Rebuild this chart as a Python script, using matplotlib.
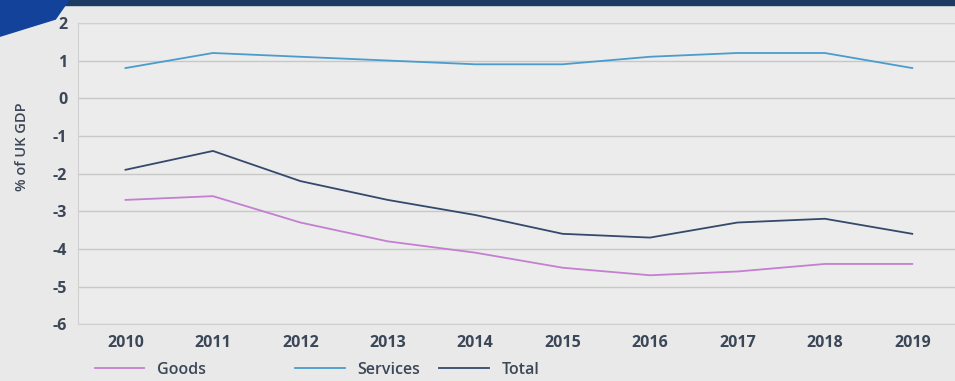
import matplotlib
matplotlib.use("Agg")
import matplotlib.pyplot as plt
from matplotlib.patches import Polygon, Rectangle

years = ["2010", "2011", "2012", "2013", "2014", "2015", "2016", "2017", "2018", "2019"]
goods = [-2.7, -2.6, -3.3, -3.8, -4.1, -4.5, -4.7, -4.6, -4.4, -4.4]
services = [0.8, 1.2, 1.1, 1.0, 0.9, 0.9, 1.1, 1.2, 1.2, 0.8]
total = [-1.9, -1.4, -2.2, -2.7, -3.1, -3.6, -3.7, -3.3, -3.2, -3.6]

plt.rcParams['font.family'] = ['Open Sans', 'DejaVu Sans']
text_col = "#3b4657"

fig = plt.figure(figsize=(9.55, 3.81), dpi=100)
fig.patch.set_facecolor("#e9e9e9")
ax = fig.add_axes([0.082, 0.149, 0.93, 0.791])
ax.set_facecolor("#ececec")

x = list(range(len(years)))
lines = []
lines += ax.plot(x, goods, color="#c47fd0", linewidth=1.3, label="Goods")
lines += ax.plot(x, services, color="#4a9ccd", linewidth=1.3, label="Services")
lines += ax.plot(x, total, color="#34496b", linewidth=1.3, label="Total")

ax.set_xlim(-0.54, 9.62)
ax.set_ylim(-6, 2)
ax.set_yticks(range(-6, 3))
ax.set_yticklabels([str(v) for v in range(-6, 3)])
ax.set_xticks(x)
ax.set_xticklabels(years)
ax.grid(axis="y", color="#c8c8c8", linewidth=1)
ax.set_axisbelow(True)
for s in ax.spines.values():
    s.set_color("#d0d0d0")
ax.tick_params(length=0, colors=text_col, labelsize=11.5, pad=8)
for lab in ax.get_xticklabels() + ax.get_yticklabels():
    lab.set_fontweight("bold")
ax.set_ylabel("% of UK GDP", color=text_col, fontsize=10.5, fontweight="semibold")
ax.yaxis.set_label_coords(-0.056, 0.59)

# one legend entry per series, placed like the original
for line, xpos in zip(lines, [0.099, 0.309, 0.46]):
    fig.legend(handles=[line], loc="lower left", bbox_to_anchor=(xpos, 0.008),
               frameon=False, borderpad=0, borderaxespad=0,
               handlelength=3.1, handletextpad=0.8,
               prop={"size": 11.5, "weight": "semibold"}, labelcolor=text_col)

# decorative header strip and corner flag
fig.patches.append(Rectangle((0, 0.986), 1, 0.014, transform=fig.transFigure,
                             color="#1d3a63", zorder=5))
fig.patches.append(Polygon([(0, 1), (0.072, 1), (0.058, 0.95), (0.0, 0.905)],
                           closed=True, transform=fig.transFigure,
                           color="#12429a", zorder=5))

fig.savefig("out.png", dpi=100, facecolor=fig.get_facecolor())
